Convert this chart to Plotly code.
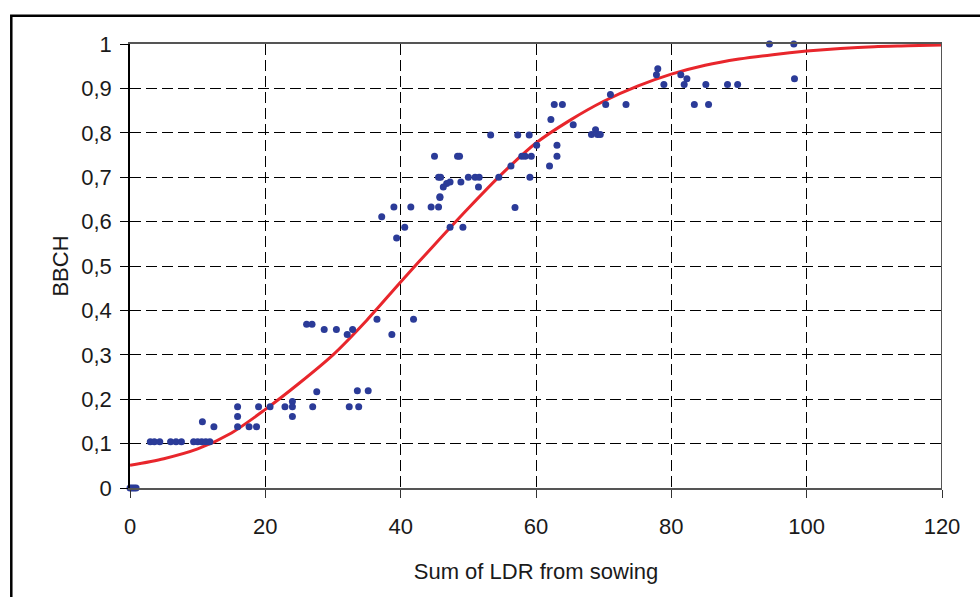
import plotly.graph_objects as go

# Observed points (Sum of LDR from sowing, BBCH)
obs_x = [0.0, 0.3, 0.6, 0.9,
         3.0, 3.6, 4.4, 6.0, 6.8, 7.6, 9.4, 10.0, 10.6, 11.2, 11.8,
         10.7, 12.4, 15.9, 15.9, 15.9, 17.6, 18.7, 19.0, 20.7, 22.9, 24.0, 24.0, 24.0,
         27.0, 27.6, 26.1, 26.9, 28.7, 30.5, 32.1, 32.9, 36.5, 38.7, 41.9,
         32.4, 33.8, 33.6, 35.2,
         37.2, 39.0, 41.5, 44.5, 45.6, 45.8, 40.6, 39.4, 47.3, 49.2,
         53.3, 57.3, 59.0, 60.1, 63.1, 63.1, 62.0, 45.0, 48.4, 48.7,
         57.9, 58.4, 59.3, 56.3, 45.6, 45.9, 47.3, 46.8, 46.3, 48.9,
         50.0, 51.0, 51.6, 51.5, 54.5, 59.1, 45.8, 56.9,
         71.0, 62.7, 63.9, 70.3, 73.3, 62.2, 65.5, 68.2, 68.8, 69.1, 69.5,
         94.5, 98.1, 98.2, 78.0, 77.8, 78.9, 81.4, 82.3, 81.9, 85.1, 88.3, 89.8, 83.4, 85.5]
obs_y = [0.0, 0.0, 0.0, 0.0,
         0.104, 0.104, 0.104, 0.104, 0.104, 0.104, 0.104, 0.104, 0.104, 0.104, 0.104,
         0.149, 0.138, 0.183, 0.161, 0.138, 0.138, 0.138, 0.183, 0.183, 0.183, 0.195, 0.183, 0.161,
         0.183, 0.217, 0.369, 0.369, 0.357, 0.357, 0.346, 0.357, 0.380, 0.346, 0.380,
         0.183, 0.183, 0.219, 0.219,
         0.611, 0.633, 0.633, 0.633, 0.633, 0.656, 0.587, 0.563, 0.587, 0.587,
         0.795, 0.795, 0.795, 0.772, 0.772, 0.747, 0.725, 0.747, 0.747, 0.747,
         0.747, 0.747, 0.747, 0.725, 0.700, 0.700, 0.689, 0.686, 0.678, 0.689,
         0.700, 0.700, 0.700, 0.678, 0.700, 0.700, 0.654, 0.632,
         0.886, 0.864, 0.864, 0.864, 0.864, 0.830, 0.818, 0.796, 0.807, 0.796, 0.796,
         1.0, 1.0, 0.922, 0.944, 0.931, 0.909, 0.931, 0.922, 0.909, 0.909, 0.909, 0.909, 0.864, 0.864]

# Fitted curve
fit_x = [0, 5, 10, 15, 20, 25, 30, 35, 40, 45, 50, 55, 60, 65, 70, 75, 80, 85, 90, 95, 100, 105, 110, 115, 120]
fit_y = [0.051, 0.066, 0.088, 0.124, 0.177, 0.236, 0.300, 0.378, 0.464, 0.548, 0.630, 0.708, 0.777,
         0.828, 0.871, 0.905, 0.932, 0.952, 0.966, 0.976, 0.984, 0.990, 0.994, 0.996, 0.998]

x_ticks = [0, 20, 40, 60, 80, 100, 120]
y_ticks = [0, 0.1, 0.2, 0.3, 0.4, 0.5, 0.6, 0.7, 0.8, 0.9, 1.0]
y_tick_text = ["0", "0,1", "0,2", "0,3", "0,4", "0,5", "0,6", "0,7", "0,8", "0,9", "1"]

FONT = "Liberation Sans, Arial, sans-serif"

fig = go.Figure()
fig.add_trace(go.Scatter(x=fit_x, y=fit_y, mode="lines",
                         line=dict(color="#E8262C", width=3, shape="spline", smoothing=0.8),
                         showlegend=False, hoverinfo="skip"))
fig.add_trace(go.Scatter(x=obs_x, y=obs_y, mode="markers", marker=dict(color="#2B3B98", size=7),
                         cliponaxis=False, showlegend=False))

fig.update_layout(
    width=980, height=597,
    margin=dict(l=130, r=38, t=44, b=109),
    paper_bgcolor="white", plot_bgcolor="white",
    font=dict(family=FONT, size=22, color="#1a1a1a"),
    xaxis=dict(range=[0, 120], tickvals=x_ticks, ticks="outside", ticklen=8, tickcolor="#333",
               showline=True, linecolor="#555", linewidth=2, mirror=True,
               showgrid=True, gridcolor="#000", gridwidth=1, griddash="11px,5px",
               zeroline=False, ticklabelstandoff=10,
               title=dict(text="Sum of LDR from sowing", font=dict(size=22), standoff=25)),
    yaxis=dict(range=[0, 1], tickvals=y_ticks, ticktext=y_tick_text, ticks="outside", ticklen=8,
               tickcolor="#000", showline=True, linecolor="#000", linewidth=1.5,
               showgrid=True, gridcolor="#000", gridwidth=1, griddash="11px,5px",
               zeroline=False, ticklabelstandoff=4,
               title=dict(text="BBCH", font=dict(size=22), standoff=7)),
    shapes=[
        dict(type="line", xref="x", yref="paper", x0=120, x1=120, y0=0, y1=1,
             line=dict(color="#555", width=2)),
        dict(type="rect", xref="paper", yref="paper", x0=-0.1462, x1=1.2, y0=-0.4, y1=1.0634,
             line=dict(color="#000", width=2.5), fillcolor="rgba(0,0,0,0)", layer="above"),
    ],
)

fig.write_html("out.html")
